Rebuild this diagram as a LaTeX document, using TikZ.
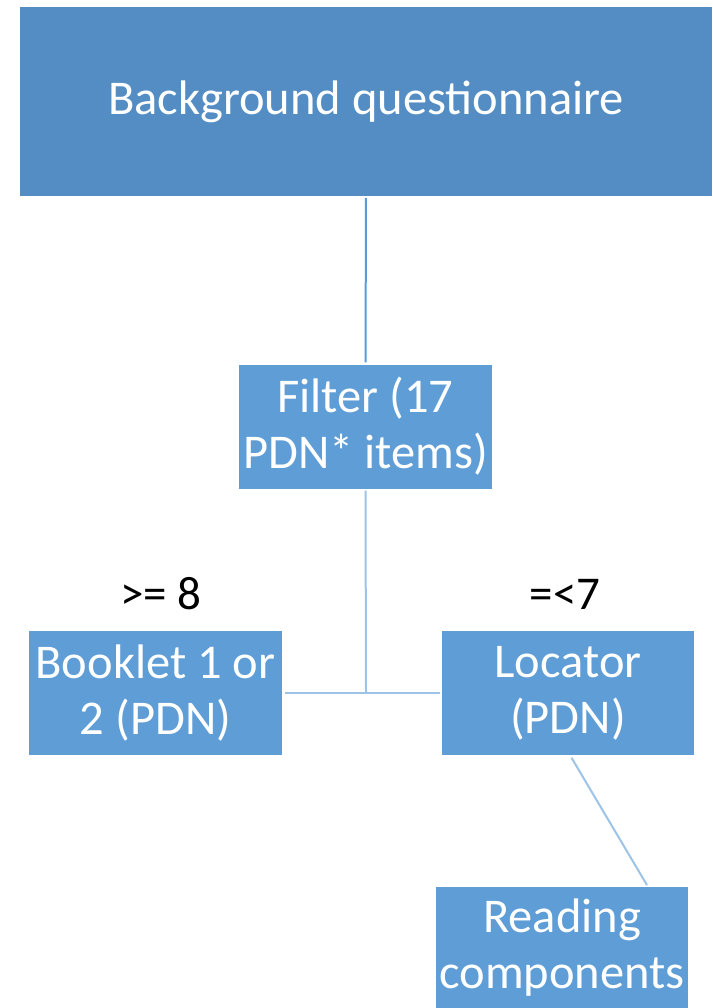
\documentclass[tikz,border=0pt]{standalone}
\usepackage{fontspec}
\setmainfont{Carlito}
\usetikzlibrary{calc}
\definecolor{topblue}{HTML}{548DC3}
\definecolor{boxblue}{HTML}{5F9DD6}
\definecolor{linedark}{HTML}{5B9BD5}
\definecolor{linelight}{HTML}{9DC3E6}
\begin{document}
\begin{tikzpicture}[x=1pt,y=-1pt,
  box/.style={fill=boxblue,draw=none,text=white,align=center,inner sep=0pt,
    minimum width=253pt,minimum height=124pt,
    font=\fontsize{48.5}{56}\selectfont},
  conn/.style={draw=linelight,line width=2pt},
  lbl/.style={text=black,inner sep=0pt,font=\fontsize{47}{56}\selectfont}]
\useasboundingbox (0,0) rectangle (712,1008);
\node[box,fill=topblue,minimum width=692pt,minimum height=189pt] (bq) at (366,101.5) {Background questionnaire};
\node[box] (filter) at (365.5,426.5) {Filter (17\\PDN* items)};
\node[box] (booklet) at (155.5,693) {Booklet 1 or\\2 (PDN)};
\node[box,minimum width=252pt] (locator) at (568,693) {Locator\\(PDN)};
\node[box,minimum width=252pt,minimum height=122pt] (reading) at (562,948) {Reading\\components};
\node[lbl] (ge) at (161,594) {>= 8};
\node[lbl] (le) at (565,594) {=<7};
\coordinate (junc) at (366,692);
\draw[conn,draw=linedark,shorten <=2pt,shorten >=2pt] (bq.south) -- (filter.north);
\draw[conn,shorten <=2pt] (filter.south) -- (junc);
\draw[conn,shorten <=3pt,shorten >=2pt] (booklet.east) -- (locator.west);
\draw[conn,shorten <=3pt,shorten >=2pt] ($(locator.south)+(2,0)$) -- ($(reading.north)+(86,0)$);
\end{tikzpicture}
\end{document}
